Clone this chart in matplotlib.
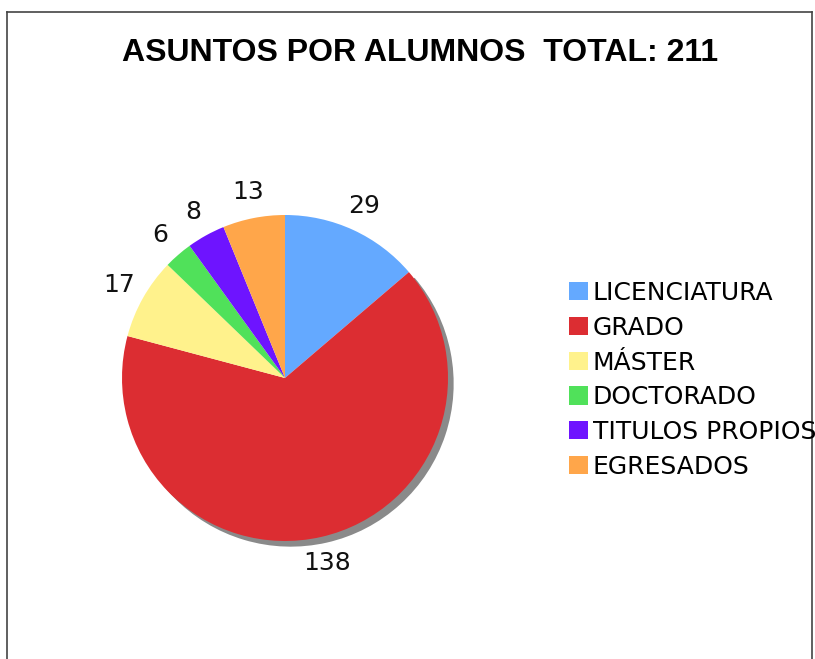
import numpy as np
import matplotlib

matplotlib.use("Agg")
import matplotlib.pyplot as plt
import matplotlib.patches as mpatches
from matplotlib.lines import Line2D

categories = ["LICENCIATURA", "GRADO", "MÁSTER", "DOCTORADO", "TITULOS PROPIOS", "EGRESADOS"]
values = [29, 138, 17, 6, 8, 13]
colors = ["#64A9FF", "#DC2D32", "#FFF28C", "#50E15A", "#6E14FF", "#FFA64A"]
title = "ASUNTOS POR ALUMNOS  TOTAL: 211"

W, H = 815, 659
total = sum(values)


def main():
    fig = plt.figure(figsize=(W / 100, H / 100), dpi=100)

    # pie axes: center (285, 378) px, radius ~163 px
    cx, cy, size = 285, 378, 400
    ax = fig.add_axes([(cx - size / 2) / W, (H - cy - size / 2) / H, size / W, size / H])
    lim = size / (2 * 163)

    wedges, texts, autotexts = ax.pie(
        values,
        colors=colors,
        startangle=90,
        counterclock=False,
        autopct=lambda p: f"{round(p * total / 100)}",
        pctdistance=1.165,
        wedgeprops=dict(linewidth=0, zorder=3),
        textprops=dict(fontsize=18, color="#111111"),
    )
    # grey drop shadow, only visible behind the big slice
    big = wedges[int(np.argmax(values))]
    sh = mpatches.Shadow(big, 0.025, -0.025)
    sh.set_facecolor("#8a8a8a")
    sh.set_alpha(1)
    sh.set_zorder(2)
    ax.add_patch(sh)
    ax.set_xlim(-lim, lim)
    ax.set_ylim(-lim, lim)
    ax.set_aspect("equal")
    ax.axis("off")

    fig.text(420 / W, 1 - 53 / H, title, ha="center", va="center",
             fontsize=23, fontweight="bold", family="Liberation Sans")

    handles = [mpatches.Patch(facecolor=c, edgecolor="none") for c in colors]
    fig.legend(handles, categories, loc="upper left",
               bbox_to_anchor=(569 / W, 1 - 281 / H), frameon=False,
               fontsize=18, handlelength=0.75, handleheight=0.75,
               handletextpad=0.2, labelspacing=0.43, borderpad=0, borderaxespad=0)

    # frame (left, top, right)
    for xs, ys in [((7, 7), (12, H)), ((7, 812), (12, 12)), ((812, 812), (12, H))]:
        fig.add_artist(Line2D([x / W for x in xs], [1 - y / H for y in ys],
                              color="#444444", linewidth=1.2))

    plt.savefig("out.png", dpi=100)


if __name__ == "__main__":
    main()
